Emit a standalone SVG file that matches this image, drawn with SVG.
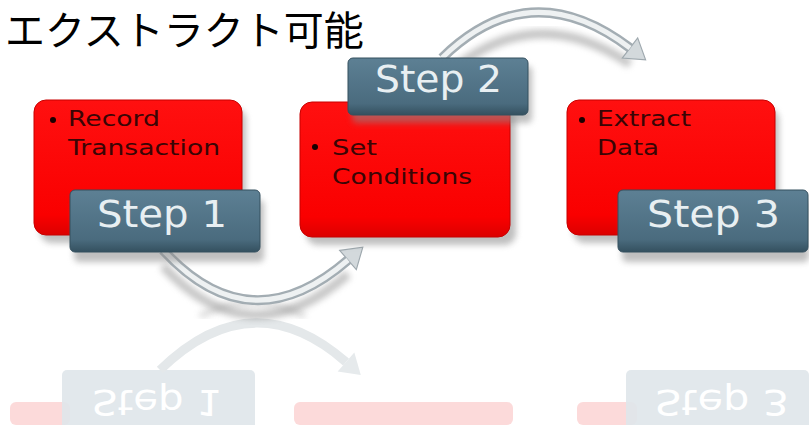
<svg xmlns="http://www.w3.org/2000/svg" width="809" height="425" viewBox="0 0 809 425">
<style>
.title{font-family:"Noto Sans CJK JP","Noto Sans",sans-serif;font-size:40px;fill:#000}
.card{fill:url(#redG);stroke:#c80000;stroke-width:1}
.bul{font-family:"DejaVu Sans",Verdana,sans-serif;font-size:21px;fill:#3a0505}
.stepbox{fill:url(#blueG);stroke:#35505f;stroke-width:1}
.steptxt{font-family:"DejaVu Sans",Verdana,sans-serif;font-size:37px;fill:#e8eff2}
.shadow{fill:#8a8a8a;opacity:0.55;filter:url(#blur)}
.arrOut{fill:none;stroke:#a3adb3;stroke-width:10}
.arrIn{fill:none;stroke:#eef1f2;stroke-width:5}
.arrSh{fill:none;stroke:#8c8c8c;stroke-width:9;opacity:0.5;filter:url(#blur)}
.refBox{fill:#dfe6ea;opacity:0.9}
.refRed{fill:#fcd6d6;opacity:0.9}
.refTxt{font-family:"DejaVu Sans",Verdana,sans-serif;font-size:36px;fill:#ffffff}
</style>
<defs>
<linearGradient id="redG" x1="0" y1="0" x2="0" y2="1">
<stop offset="0" stop-color="#ff1010"/>
<stop offset="0.85" stop-color="#fa0000"/>
<stop offset="1" stop-color="#dc0000"/>
</linearGradient>
<linearGradient id="blueG" x1="0" y1="0" x2="0" y2="1">
<stop offset="0" stop-color="#5d8094"/>
<stop offset="0.8" stop-color="#4a6b7e"/>
<stop offset="1" stop-color="#34505f"/>
</linearGradient>
<filter id="blur" x="-20%" y="-20%" width="140%" height="140%"><feGaussianBlur stdDeviation="3"/></filter>
<marker id="ah" markerUnits="userSpaceOnUse" markerWidth="30" markerHeight="30" viewBox="-2 -13 22 26" refX="0" refY="0" orient="auto">
<path d="M0,-11 L17,0 L0,11 Z" fill="#d3d9dc" stroke="#9ea8ae" stroke-width="1"/>
</marker>
<marker id="ahR" markerUnits="userSpaceOnUse" markerWidth="30" markerHeight="30" viewBox="-2 -13 22 26" refX="0" refY="0" orient="auto">
<path d="M0,-11 L17,0 L0,11 Z" fill="#e6eaec"/>
</marker>
</defs>
<rect width="809" height="425" fill="#ffffff"/>

<text class="title" x="5" y="45">エクストラクト可能</text>

<g id="reflections">
<rect class="refRed" x="10" y="402" width="60" height="23" rx="6"/>
<rect class="refRed" x="294" y="402" width="219" height="23" rx="6"/>
<rect class="refRed" x="577" y="402" width="60" height="23" rx="6"/>
<rect class="refBox" x="62" y="370" width="193" height="60" rx="5"/>
<rect class="refBox" x="626" y="370" width="183" height="60" rx="5"/>
<text class="refTxt" transform="translate(0,617) scale(1,-1)" x="92" y="227" textLength="130" lengthAdjust="spacingAndGlyphs">Step 1</text>
<text class="refTxt" transform="translate(0,617) scale(1,-1)" x="655" y="227" textLength="134" lengthAdjust="spacingAndGlyphs">Step 3</text>
<path d="M160,370 Q252,280 346,362" fill="none" stroke="#e4e8ea" stroke-width="9" marker-end="url(#ahR)"/>
<path d="M200,316 Q252,290 305,316" fill="none" stroke="#b0b0b0" stroke-width="6" opacity="0.45" filter="url(#blur)"/>
</g>

<g id="connectors">
<path class="arrSh" d="M163,266 Q250,360 348,274"/>
<path class="arrOut" d="M163,250 Q250,345 348,260" marker-end="url(#ah)"/>
<path class="arrIn" d="M163,250 Q250,345 348,260"/>
<path class="arrSh" d="M450,72 Q535,0 630,64"/>
<path class="arrOut" d="M442,58 Q530,-28 630,48" marker-end="url(#ah)"/>
<path class="arrIn" d="M442,58 Q530,-28 630,48"/>
</g>

<g id="node1">
<rect class="shadow" x="40" y="108" width="206" height="135" rx="12"/>
<rect class="card" x="34" y="100" width="208" height="135" rx="12"/>
<circle cx="53" cy="120" r="3" fill="#1a0000"/>
<text class="bul" x="68" y="126" textLength="92" lengthAdjust="spacingAndGlyphs">Record</text>
<text class="bul" x="68" y="155" textLength="152" lengthAdjust="spacingAndGlyphs">Transaction</text>
<rect class="shadow" x="74" y="200" width="190" height="62" rx="5"/>
<rect class="stepbox" x="70" y="190" width="190" height="62" rx="5"/>
<text class="steptxt" x="97" y="227" textLength="130" lengthAdjust="spacingAndGlyphs">Step 1</text>
</g>

<g id="node2">
<rect class="shadow" x="306" y="110" width="210" height="135" rx="12"/>
<rect class="card" x="300" y="102" width="210" height="135" rx="12"/>
<circle cx="315" cy="147" r="3" fill="#1a0000"/>
<text class="bul" x="332" y="155" textLength="45" lengthAdjust="spacingAndGlyphs">Set</text>
<text class="bul" x="332" y="184" textLength="140" lengthAdjust="spacingAndGlyphs">Conditions</text>
<rect class="shadow" x="352" y="66" width="180" height="57" rx="5"/>
<rect class="stepbox" x="348" y="58" width="180" height="57" rx="5"/>
<text class="steptxt" x="375" y="92" textLength="127" lengthAdjust="spacingAndGlyphs">Step 2</text>
</g>

<g id="node3">
<rect class="shadow" x="573" y="108" width="206" height="135" rx="12"/>
<rect class="card" x="567" y="100" width="208" height="135" rx="12"/>
<circle cx="582" cy="120" r="3" fill="#1a0000"/>
<text class="bul" x="597" y="126" textLength="94" lengthAdjust="spacingAndGlyphs">Extract</text>
<text class="bul" x="597" y="155" textLength="62" lengthAdjust="spacingAndGlyphs">Data</text>
<rect class="shadow" x="622" y="200" width="187" height="62" rx="5"/>
<rect class="stepbox" x="618" y="190" width="190" height="62" rx="5"/>
<text class="steptxt" x="647" y="227" textLength="133" lengthAdjust="spacingAndGlyphs">Step 3</text>
</g>
</svg>
